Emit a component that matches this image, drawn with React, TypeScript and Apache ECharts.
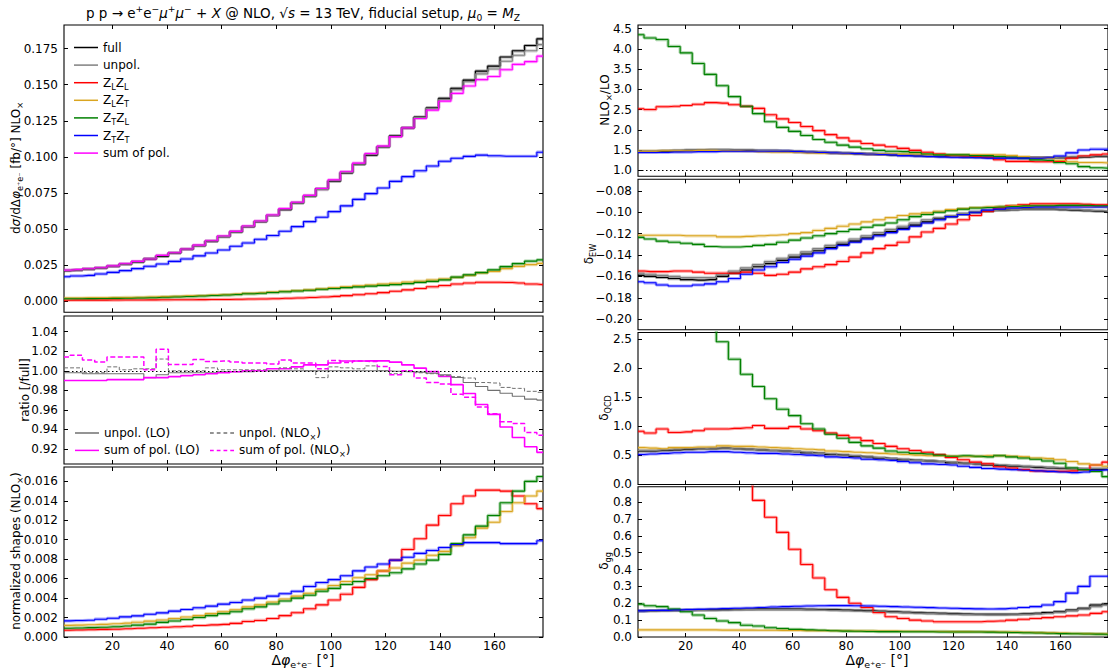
import React, { useEffect, useRef } from "react";
import * as echarts from "echarts";

// ---------- bins (centres of the 4.5 degree bins) ----------
const PHI = [
  2.25, 6.75, 11.25, 15.75, 20.25, 24.75, 29.25, 33.75, 38.25, 42.75,
  47.25, 51.75, 56.25, 60.75, 65.25, 69.75, 74.25, 78.75, 83.25, 87.75,
  92.25, 96.75, 101.25, 105.75, 110.25, 114.75, 119.25, 123.75, 128.25, 132.75,
  137.25, 141.75, 146.25, 150.75, 155.25, 159.75, 164.25, 168.75, 173.25, 177.75,
];
const X_TICKS = [20, 40, 60, 80, 100, 120, 140, 160];

// ---------- tick values ----------
const T_XS = [0, 0.025, 0.05, 0.075, 0.1, 0.125, 0.15, 0.175];
const T_RATIO = [0.92, 0.94, 0.96, 0.98, 1.0, 1.02, 1.04];
const T_NORM = [0, 0.002, 0.004, 0.006, 0.008, 0.01, 0.012, 0.014, 0.016];
const T_K = [1.0, 1.5, 2.0, 2.5, 3.0, 3.5, 4.0, 4.5];
const T_EW = [-0.2, -0.18, -0.16, -0.14, -0.12, -0.1, -0.08];
const T_QCD = [0, 0.5, 1.0, 1.5, 2.0, 2.5];
const T_GG = [0, 0.1, 0.2, 0.3, 0.4, 0.5, 0.6, 0.7, 0.8];

// ---------- dsigma/dDphi NLOx [fb/deg] ----------
const xsFull = [
  0.0211, 0.0215, 0.0222, 0.0229, 0.0241, 0.0255, 0.0271, 0.0292, 0.031, 0.0333,
  0.0359, 0.0384, 0.0414, 0.0447, 0.0479, 0.0516, 0.0551, 0.0593, 0.0634, 0.068,
  0.0727, 0.0778, 0.0831, 0.0889, 0.0947, 0.1012, 0.1069, 0.1145, 0.1201, 0.1275,
  0.134, 0.1405, 0.1475, 0.1532, 0.1594, 0.1629, 0.1692, 0.1735, 0.1772, 0.1818,
];
const xsUnpol = [
  0.0212, 0.0216, 0.0222, 0.0229, 0.0242, 0.0255, 0.0272, 0.0293, 0.0314, 0.0333,
  0.0359, 0.0384, 0.0415, 0.0447, 0.0479, 0.0517, 0.0552, 0.0593, 0.0636, 0.0681,
  0.0727, 0.0773, 0.0834, 0.0892, 0.0949, 0.1017, 0.1069, 0.1142, 0.1201, 0.1272,
  0.1336, 0.1398, 0.1466, 0.1521, 0.1575, 0.1609, 0.1663, 0.1704, 0.1735, 0.1778,
];
const xsSum = [
  0.0214, 0.0218, 0.0224, 0.0231, 0.0244, 0.0259, 0.0275, 0.0292, 0.0317, 0.0335,
  0.0361, 0.0388, 0.0418, 0.0451, 0.0483, 0.052, 0.0555, 0.0597, 0.0641, 0.0685,
  0.0733, 0.078, 0.084, 0.0897, 0.0956, 0.1022, 0.1074, 0.114, 0.1201, 0.1266,
  0.1324, 0.1386, 0.144, 0.1491, 0.1535, 0.1557, 0.1604, 0.1641, 0.166, 0.1698,
];
const xsLL = [
  0.0006, 0.00062, 0.00065, 0.00067, 0.00069, 0.00073, 0.00077, 0.00082, 0.00086, 0.0009,
  0.00095, 0.00101, 0.00108, 0.00112, 0.0012, 0.00138, 0.00146, 0.00163, 0.00189, 0.00215,
  0.00249, 0.00284, 0.00327, 0.00378, 0.00439, 0.00507, 0.00585, 0.00679, 0.00774, 0.00869,
  0.00989, 0.01075, 0.01178, 0.01247, 0.01299, 0.01299, 0.0129, 0.01247, 0.01178, 0.01135,
];
const xsLT = [
  0.00209, 0.00212, 0.00219, 0.00226, 0.00237, 0.00249, 0.00264, 0.00284, 0.00305, 0.00331,
  0.00357, 0.00383, 0.00418, 0.00452, 0.00487, 0.00539, 0.00574, 0.00626, 0.00679, 0.00731,
  0.00783, 0.00853, 0.00922, 0.00992, 0.01061, 0.01114, 0.01183, 0.01235, 0.01322, 0.01375,
  0.01462, 0.01531, 0.01636, 0.01775, 0.01949, 0.02053, 0.02245, 0.02401, 0.02523, 0.0261,
];
const xsTL = [
  0.00156, 0.00159, 0.00166, 0.00173, 0.00183, 0.00195, 0.00211, 0.00228, 0.0026, 0.00285,
  0.00311, 0.00346, 0.00381, 0.00415, 0.0045, 0.00502, 0.00536, 0.00588, 0.0064, 0.00692,
  0.00744, 0.00813, 0.00865, 0.00934, 0.00986, 0.01038, 0.0109, 0.01142, 0.01211, 0.01298,
  0.01367, 0.01471, 0.01661, 0.01817, 0.01972, 0.02163, 0.02387, 0.02595, 0.02768, 0.02855,
];
const xsTT = [
  0.0169, 0.0174, 0.0178, 0.0188, 0.0199, 0.0211, 0.0225, 0.0241, 0.0257, 0.0275,
  0.0292, 0.0313, 0.0333, 0.0354, 0.038, 0.0403, 0.0428, 0.0454, 0.0484, 0.0516,
  0.0551, 0.0581, 0.062, 0.066, 0.0705, 0.0745, 0.0784, 0.083, 0.0863, 0.0903,
  0.0936, 0.0969, 0.099, 0.1003, 0.1012, 0.1007, 0.1004, 0.1004, 0.1004, 0.1032,
];

// ---------- ratio [/full] ----------
const ratioUnpolLO = [
  0.998, 0.998, 0.997, 0.997, 0.997, 0.997, 0.997, 0.993, 0.996, 0.998,
  0.998, 0.998, 0.998, 0.999, 0.999, 0.999, 1.0, 1.0, 1.0, 1.0,
  1.0, 1.0, 1.0, 1.0, 1.0, 1.0, 1.0, 0.9995, 0.999, 0.9986,
  0.9976, 0.996, 0.9932, 0.988, 0.984, 0.98, 0.977, 0.974, 0.971, 0.97,
];
const ratioSumLO = [
  0.99, 0.99, 0.99, 0.99, 0.991, 0.991, 0.991, 0.993, 0.993, 0.994,
  0.995, 0.996, 0.997, 0.998, 0.999, 1.0, 1.0, 1.002, 1.002, 1.004,
  1.006, 1.006, 1.008, 1.01, 1.01, 1.0101, 1.0101, 1.0088, 1.006, 1.0027,
  0.9993, 0.9943, 0.9858, 0.9767, 0.9655, 0.9554, 0.9426, 0.9318, 0.9223, 0.9166,
];
const ratioUnpolNLO = [
  1.003, 1.003, 0.998, 0.998, 1.004, 1.001, 1.002, 1.002, 1.012, 1.0,
  1.0, 1.0, 1.003, 1.001, 1.001, 1.001, 1.001, 1.0, 1.003, 1.002,
  1.0, 0.993, 1.004, 1.003, 1.002, 1.005, 1.0, 0.997, 1.0, 0.998,
  0.997, 0.995, 0.994, 0.9926, 0.988, 0.9875, 0.983, 0.982, 0.979, 0.978,
];
const ratioSumNLO = [
  1.014, 1.016, 1.011, 1.009, 1.014, 1.014, 1.014, 1.001, 1.022, 1.0065,
  1.0065, 1.0115, 1.0095, 1.01, 1.009, 1.008, 1.008, 1.007, 1.011, 1.008,
  1.008, 1.002, 1.0105, 1.0085, 1.01, 1.0095, 1.0045, 0.996, 1.0, 0.9926,
  0.988, 0.9865, 0.976, 0.973, 0.963, 0.956, 0.948, 0.946, 0.937, 0.934,
];

// ---------- normalized shapes (NLOx) ----------
const normLL = [
  0.0007, 0.00072, 0.00075, 0.00078, 0.0008, 0.00085, 0.0009, 0.00095, 0.001, 0.00105,
  0.0011, 0.00118, 0.00125, 0.0013, 0.0014, 0.0016, 0.0017, 0.0019, 0.0022, 0.0025,
  0.0029, 0.0033, 0.0038, 0.0044, 0.0051, 0.0059, 0.0068, 0.0079, 0.009, 0.0101,
  0.0115, 0.0125, 0.0137, 0.0145, 0.0151, 0.0151, 0.015, 0.0145, 0.0137, 0.0132,
];
const normLT = [
  0.0012, 0.00122, 0.00126, 0.0013, 0.00136, 0.00143, 0.00152, 0.00163, 0.00175, 0.0019,
  0.00205, 0.0022, 0.0024, 0.0026, 0.0028, 0.0031, 0.0033, 0.0036, 0.0039, 0.0042,
  0.0045, 0.0049, 0.0053, 0.0057, 0.0061, 0.0064, 0.0068, 0.0071, 0.0076, 0.0079,
  0.0084, 0.0088, 0.0094, 0.0102, 0.0112, 0.0118, 0.0129, 0.0138, 0.0145, 0.015,
];
const normTL = [
  0.0009, 0.00092, 0.00096, 0.001, 0.00106, 0.00113, 0.00122, 0.00132, 0.0015, 0.00165,
  0.0018, 0.002, 0.0022, 0.0024, 0.0026, 0.0029, 0.0031, 0.0034, 0.0037, 0.004,
  0.0043, 0.0047, 0.005, 0.0054, 0.0057, 0.006, 0.0063, 0.0066, 0.007, 0.0075,
  0.0079, 0.0085, 0.0096, 0.0105, 0.0114, 0.0125, 0.0138, 0.015, 0.016, 0.0165,
];
const normTT = [
  0.00166, 0.00169, 0.00172, 0.00183, 0.00193, 0.00207, 0.00217, 0.00234, 0.00248, 0.00266,
  0.00283, 0.003, 0.00317, 0.00338, 0.00355, 0.0038, 0.004, 0.0042, 0.00445, 0.0047,
  0.0052, 0.0056, 0.0059, 0.0063, 0.0068, 0.0072, 0.0075, 0.0079, 0.0082, 0.0086,
  0.0089, 0.0092, 0.0095, 0.0097, 0.0097, 0.0097, 0.0096, 0.0096, 0.0096, 0.0099,
];

// ---------- NLOx/LO ----------
const kFull = [
  1.46, 1.46, 1.47, 1.48, 1.49, 1.49, 1.5, 1.5, 1.49, 1.49,
  1.48, 1.48, 1.47, 1.46, 1.45, 1.44, 1.43, 1.42, 1.41, 1.4,
  1.39, 1.38, 1.37, 1.36, 1.35, 1.34, 1.34, 1.33, 1.33, 1.32,
  1.32, 1.31, 1.31, 1.31, 1.31, 1.31, 1.32, 1.33, 1.34, 1.34,
];
const kUnpol = [
  1.47, 1.47, 1.48, 1.49, 1.5, 1.5, 1.51, 1.51, 1.5, 1.5,
  1.49, 1.49, 1.48, 1.47, 1.46, 1.45, 1.44, 1.43, 1.42, 1.41,
  1.4, 1.39, 1.38, 1.37, 1.36, 1.35, 1.34, 1.33, 1.33, 1.32,
  1.32, 1.31, 1.31, 1.31, 1.31, 1.32, 1.33, 1.34, 1.35, 1.35,
];
const kLL = [
  2.52, 2.5, 2.57, 2.58, 2.6, 2.63, 2.67, 2.66, 2.62, 2.58,
  2.53, 2.37, 2.27, 2.18, 2.08, 1.98, 1.88, 1.8, 1.72, 1.66,
  1.62, 1.58, 1.54, 1.49, 1.445, 1.4, 1.36, 1.35, 1.34, 1.32,
  1.26, 1.22, 1.22, 1.21, 1.21, 1.22, 1.3, 1.35, 1.38, 1.4,
];
const kLT = [
  1.47, 1.47, 1.48, 1.48, 1.48, 1.49, 1.49, 1.48, 1.48, 1.47,
  1.46, 1.45, 1.45, 1.44, 1.43, 1.42, 1.42, 1.41, 1.41, 1.4,
  1.4, 1.4, 1.4, 1.4, 1.39, 1.39, 1.38, 1.38, 1.38, 1.38,
  1.38, 1.36, 1.34, 1.31, 1.3, 1.24, 1.21, 1.19, 1.19, 1.18,
];
const kTL = [
  4.35, 4.27, 4.23, 4.06, 3.9, 3.64, 3.37, 3.09, 2.82, 2.58,
  2.4, 2.2, 2.06, 1.96, 1.86, 1.76, 1.69, 1.62, 1.57, 1.53,
  1.49, 1.47, 1.46, 1.44, 1.4, 1.38, 1.38, 1.38, 1.36, 1.36,
  1.34, 1.32, 1.3, 1.255, 1.24, 1.19, 1.16, 1.09, 1.06, 1.05,
];
const kTT = [
  1.44, 1.44, 1.44, 1.45, 1.45, 1.46, 1.46, 1.47, 1.47, 1.47,
  1.47, 1.47, 1.47, 1.46, 1.45, 1.44, 1.43, 1.42, 1.41, 1.4,
  1.39, 1.38, 1.36, 1.35, 1.34, 1.33, 1.32, 1.32, 1.31, 1.3,
  1.3, 1.3, 1.3, 1.3, 1.31, 1.35, 1.43, 1.5, 1.52, 1.52,
];

// ---------- delta_EW ----------
const ewFull = [
  -0.159, -0.16, -0.161, -0.162, -0.163, -0.1635, -0.163, -0.16, -0.157, -0.154,
  -0.151, -0.148, -0.145, -0.142, -0.139, -0.136, -0.133, -0.13, -0.127, -0.124,
  -0.121, -0.118, -0.115, -0.112, -0.109, -0.106, -0.104, -0.102, -0.1, -0.099,
  -0.098, -0.0975, -0.097, -0.097, -0.097, -0.0975, -0.098, -0.0985, -0.099, -0.0995,
];
const ewUnpol = [
  -0.157, -0.158, -0.159, -0.16, -0.161, -0.161, -0.161, -0.158, -0.155, -0.152,
  -0.149, -0.146, -0.143, -0.14, -0.137, -0.134, -0.131, -0.128, -0.125, -0.122,
  -0.119, -0.116, -0.113, -0.11, -0.107, -0.105, -0.103, -0.101, -0.0995, -0.0985,
  -0.098, -0.0975, -0.097, -0.097, -0.097, -0.097, -0.0975, -0.098, -0.0985, -0.099,
];
const ewLL = [
  -0.155, -0.1555, -0.1555, -0.155, -0.155, -0.156, -0.157, -0.157, -0.157, -0.156,
  -0.157, -0.159, -0.158, -0.156, -0.153, -0.151, -0.149, -0.146, -0.142, -0.138,
  -0.134, -0.131, -0.128, -0.123, -0.1185, -0.115, -0.111, -0.107, -0.103, -0.099,
  -0.096, -0.094, -0.093, -0.092, -0.092, -0.092, -0.092, -0.0925, -0.093, -0.093,
];
const ewLT = [
  -0.1215, -0.1215, -0.1215, -0.1215, -0.122, -0.122, -0.122, -0.123, -0.123, -0.1225,
  -0.122, -0.1215, -0.121, -0.12, -0.119, -0.117, -0.115, -0.113, -0.111, -0.109,
  -0.107, -0.105, -0.103, -0.1015, -0.1005, -0.099, -0.0975, -0.0965, -0.0955, -0.095,
  -0.0945, -0.094, -0.094, -0.094, -0.094, -0.094, -0.094, -0.0945, -0.0945, -0.095,
];
const ewTL = [
  -0.1235, -0.125, -0.127, -0.128, -0.129, -0.13, -0.132, -0.1325, -0.1325, -0.132,
  -0.131, -0.13, -0.128, -0.126, -0.124, -0.122, -0.12, -0.118, -0.116, -0.114,
  -0.112, -0.11, -0.107, -0.104, -0.102, -0.1, -0.0985, -0.097, -0.096, -0.0955,
  -0.095, -0.0945, -0.094, -0.094, -0.094, -0.0935, -0.0935, -0.0935, -0.094, -0.094,
];
const ewTT = [
  -0.165, -0.166, -0.168, -0.169, -0.169, -0.168, -0.167, -0.165, -0.162, -0.158,
  -0.154, -0.151, -0.147, -0.144, -0.141, -0.138, -0.134, -0.131, -0.128, -0.125,
  -0.122, -0.119, -0.116, -0.113, -0.11, -0.107, -0.104, -0.102, -0.1, -0.098,
  -0.097, -0.096, -0.0955, -0.095, -0.095, -0.095, -0.095, -0.095, -0.095, -0.095,
];

// ---------- delta_QCD ----------
const qcdFull = [
  0.57, 0.57, 0.58, 0.59, 0.6, 0.61, 0.61, 0.62, 0.61, 0.6,
  0.59, 0.58, 0.57, 0.56, 0.54, 0.53, 0.51, 0.5, 0.48, 0.47,
  0.45, 0.44, 0.42, 0.41, 0.4, 0.39, 0.37, 0.36, 0.35, 0.33,
  0.32, 0.31, 0.3, 0.29, 0.28, 0.27, 0.27, 0.26, 0.26, 0.26,
];
const qcdUnpol = [
  0.58, 0.58, 0.59, 0.6, 0.61, 0.61, 0.62, 0.62, 0.61, 0.6,
  0.59, 0.58, 0.57, 0.56, 0.55, 0.53, 0.52, 0.5, 0.49, 0.47,
  0.46, 0.44, 0.43, 0.41, 0.4, 0.39, 0.38, 0.36, 0.35, 0.34,
  0.33, 0.32, 0.31, 0.3, 0.29, 0.28, 0.27, 0.27, 0.27, 0.27,
];
const qcdLL = [
  0.91, 0.88, 0.95, 0.89, 0.9, 0.92, 0.95, 0.95, 0.96, 0.97,
  1.01, 0.96, 0.96, 0.99, 0.95, 0.92, 0.88, 0.84, 0.8, 0.75,
  0.7, 0.65, 0.61, 0.58, 0.55, 0.51, 0.46, 0.42, 0.38, 0.35,
  0.3, 0.28, 0.25, 0.23, 0.22, 0.22, 0.23, 0.25, 0.33, 0.38,
];
const qcdLT = [
  0.63, 0.62, 0.61, 0.63, 0.63, 0.64, 0.64, 0.66, 0.65, 0.65,
  0.64, 0.63, 0.62, 0.61, 0.6, 0.59, 0.57, 0.56, 0.55, 0.54,
  0.53, 0.52, 0.51, 0.5, 0.49, 0.49, 0.48, 0.48, 0.48, 0.49,
  0.49, 0.48, 0.47, 0.45, 0.44, 0.42, 0.39, 0.35, 0.33, 0.31,
];
const qcdTL = [
  3.7, 3.6, 3.55, 3.38, 3.23, 2.98, 2.75, 2.45, 2.15, 1.89,
  1.68, 1.47, 1.29, 1.18, 1.04, 0.95, 0.86, 0.79, 0.72, 0.66,
  0.62, 0.57, 0.55, 0.53, 0.52, 0.5, 0.48, 0.49, 0.48, 0.47,
  0.49, 0.47, 0.45, 0.43, 0.4, 0.36, 0.28, 0.25, 0.22, 0.13,
];
const qcdTT = [
  0.51, 0.52, 0.53, 0.54, 0.55, 0.55, 0.56, 0.56, 0.55, 0.54,
  0.53, 0.53, 0.52, 0.51, 0.5, 0.49, 0.47, 0.46, 0.45, 0.43,
  0.42, 0.41, 0.39, 0.37, 0.35, 0.34, 0.33, 0.31, 0.29, 0.27,
  0.26, 0.25, 0.24, 0.23, 0.22, 0.21, 0.2, 0.21, 0.24, 0.25,
];

// ---------- delta_gg ----------
const ggFull = [
  0.155, 0.156, 0.157, 0.158, 0.159, 0.16, 0.161, 0.162, 0.163, 0.164,
  0.165, 0.165, 0.165, 0.165, 0.164, 0.163, 0.162, 0.16, 0.158, 0.156,
  0.153, 0.15, 0.147, 0.144, 0.142, 0.14, 0.138, 0.136, 0.135, 0.134,
  0.134, 0.135, 0.137, 0.14, 0.145, 0.15, 0.16, 0.17, 0.19, 0.195,
];
const ggUnpol = [
  0.153, 0.154, 0.155, 0.156, 0.157, 0.158, 0.159, 0.16, 0.161, 0.162,
  0.162, 0.162, 0.162, 0.162, 0.161, 0.16, 0.158, 0.156, 0.154, 0.152,
  0.149, 0.146, 0.143, 0.141, 0.139, 0.137, 0.135, 0.133, 0.132, 0.131,
  0.131, 0.132, 0.134, 0.137, 0.141, 0.146, 0.155, 0.165, 0.18, 0.19,
];
const ggLL = [
  3.0, 2.8, 2.6, 2.4, 2.2, 2.0, 1.8, 1.5, 1.25, 1.0,
  0.81, 0.71, 0.62, 0.52, 0.43, 0.35, 0.28, 0.235, 0.2, 0.175,
  0.145, 0.12, 0.11, 0.1, 0.095, 0.09, 0.09, 0.09, 0.09, 0.093,
  0.095, 0.1, 0.105, 0.11, 0.115, 0.12, 0.125, 0.13, 0.14, 0.15,
];
const ggLT = [
  0.042, 0.042, 0.042, 0.042, 0.042, 0.042, 0.042, 0.041, 0.041, 0.041,
  0.04, 0.04, 0.039, 0.039, 0.038, 0.038, 0.037, 0.037, 0.036, 0.036,
  0.035, 0.035, 0.034, 0.034, 0.033, 0.033, 0.032, 0.032, 0.031, 0.031,
  0.03, 0.029, 0.028, 0.026, 0.025, 0.023, 0.021, 0.02, 0.019, 0.018,
];
const ggTL = [
  0.195, 0.185, 0.18, 0.165, 0.15, 0.13, 0.11, 0.095, 0.085, 0.07,
  0.065, 0.055, 0.05, 0.045, 0.042, 0.04, 0.037, 0.035, 0.034, 0.033,
  0.032, 0.032, 0.031, 0.031, 0.031, 0.03, 0.03, 0.03, 0.03, 0.029,
  0.028, 0.027, 0.025, 0.024, 0.022, 0.02, 0.019, 0.018, 0.017, 0.016,
];
const ggTT = [
  0.155, 0.157, 0.158, 0.16, 0.162, 0.164, 0.166, 0.168, 0.17, 0.172,
  0.175, 0.178, 0.18, 0.182, 0.184, 0.185, 0.186, 0.186, 0.185, 0.184,
  0.182, 0.18, 0.178, 0.176, 0.174, 0.172, 0.17, 0.168, 0.167, 0.166,
  0.167, 0.17, 0.175, 0.18, 0.19, 0.21, 0.26, 0.3, 0.36, 0.36,
];

// ---------- styling ----------
const FONT = '"DejaVu Sans", "Liberation Sans", sans-serif';
const COL = {
  full: "#000000",
  unpol: "#808080",
  LL: "#ff0000",
  LT: "#daa520",
  TL: "#008000",
  TT: "#0000ff",
  sum: "#ff00ff",
};
const ICON_SOLID = "rect";
const ICON_DASHED = "path://M0,0H5V2H0Z M9,0H14V2H9Z M18,0H23V2H18Z M27,0H32V2H27Z";

function richSet(base: number) {
  return {
    n: { fontSize: base, fontFamily: FONT, color: "#000", lineHeight: base + 4 },
    i: { fontSize: base, fontFamily: FONT, fontStyle: "italic", color: "#000", lineHeight: base + 4 },
    s: { fontSize: base * 0.68, fontFamily: FONT, color: "#000", lineHeight: base * 0.62, verticalAlign: "bottom" },
    p: { fontSize: base * 0.68, fontFamily: FONT, color: "#000", lineHeight: base * 0.62, verticalAlign: "top" },
  };
}

const LEGEND_TEXT: Record<string, string> = {
  "full": "{n|full}",
  "unpol.": "{n|unpol.}",
  ZLZL: "{n|Z}{s|L}{n|Z}{s|L}",
  ZLZT: "{n|Z}{s|L}{n|Z}{s|T}",
  ZTZL: "{n|Z}{s|T}{n|Z}{s|L}",
  ZTZT: "{n|Z}{s|T}{n|Z}{s|T}",
  "sum of pol.": "{n|sum of pol.}",
  "unpol. (LO)": "{n|unpol. (LO)}",
  "sum of pol. (LO)": "{n|sum of pol. (LO)}",
  "unpol. (NLO×)": "{n|unpol. (NLO}{s|×}{n|)}",
  "sum of pol. (NLO×)": "{n|sum of pol. (NLO}{s|×}{n|)}",
};

export default function App() {
  const ref = useRef<HTMLDivElement | null>(null);

  useEffect(() => {
    if (!ref.current) return;
    const chart = echarts.init(ref.current, undefined, { renderer: "svg" });

    const GRIDS = [
      { left: 64, top: 25, width: 479, height: 287.3 },
      { left: 64, top: 316, width: 479, height: 148 },
      { left: 64, top: 467, width: 479, height: 170 },
      { left: 638, top: 25, width: 479.5, height: 151.3 },
      { left: 638, top: 179.3, width: 479.5, height: 150.5 },
      { left: 638, top: 332.5, width: 479.5, height: 152 },
      { left: 638, top: 486.7, width: 479.5, height: 150.3 },
    ];
    const YCFG = [
      { min: -0.0078, max: 0.1914, ticks: T_XS, dec: 3 },
      { min: 0.9047, max: 1.056, ticks: T_RATIO, dec: 2 },
      { min: 0, max: 0.01748, ticks: T_NORM, dec: 3 },
      { min: 0.85, max: 4.59, ticks: T_K, dec: 1 },
      { min: -0.21, max: -0.0691, ticks: T_EW, dec: 2 },
      { min: -0.005, max: 2.609, ticks: T_QCD, dec: 1 },
      { min: 0, max: 0.891, ticks: T_GG, dec: 1 },
    ];
    const xLabelGrids = [2, 6];

    const tickStyle = { show: true, inside: true, length: 4, lineStyle: { color: "#000", width: 1 } };
    const labelBase = { fontFamily: FONT, fontSize: 12, color: "#000" };

    const xAxis: any[] = [];
    const yAxis: any[] = [];
    GRIDS.forEach((_, g) => {
      xAxis.push({
        type: "value", gridIndex: g, position: "bottom", min: 2.25, max: 177.75,
        axisLine: { show: false, onZero: false },
        axisTick: { ...tickStyle, customValues: X_TICKS },
        axisLabel: { ...labelBase, show: xLabelGrids.includes(g), customValues: X_TICKS, margin: 3 },
        splitLine: { show: false },
      });
      xAxis.push({
        type: "value", gridIndex: g, position: "top", min: 2.25, max: 177.75,
        axisLine: { show: false, onZero: false },
        axisTick: { ...tickStyle, customValues: X_TICKS },
        axisLabel: { show: false, customValues: X_TICKS },
        splitLine: { show: false },
      });
      const c = YCFG[g];
      const fmt = (v: number) => (v < 0 ? "\u2212" : "") + Math.abs(v).toFixed(c.dec);
      yAxis.push({
        type: "value", gridIndex: g, position: "left", min: c.min, max: c.max,
        axisLine: { show: false, onZero: false },
        axisTick: { ...tickStyle, customValues: c.ticks },
        axisLabel: { ...labelBase, show: true, customValues: c.ticks, formatter: fmt, margin: 6 },
        splitLine: { show: false },
      });
      yAxis.push({
        type: "value", gridIndex: g, position: "right", min: c.min, max: c.max,
        axisLine: { show: false, onZero: false },
        axisTick: { ...tickStyle, customValues: c.ticks },
        axisLabel: { show: false, customValues: c.ticks },
        splitLine: { show: false },
      });
    });

    const series: any[] = [];
    const dotted = (y: number) => ({
      silent: true, symbol: ["none", "none"], label: { show: false }, animation: false,
      lineStyle: { color: "#000", type: [1.5, 2.5], width: 1.2 },
      data: [{ yAxis: y }],
    });
    function add(g: number, name: string, vals: number[], color: string, o: any = {}) {
      const data = PHI.map((x, i) => [x, vals[i]]);
      if (o.band) {
        series.push({
          type: "line", name: name + " band", xAxisIndex: 2 * g, yAxisIndex: 2 * g, data,
          step: "middle", symbol: "none", showSymbol: false, silent: true, z: 2,
          lineStyle: { color, width: 3.2, opacity: 0.35 },
        });
      }
      series.push({
        type: "line", name, xAxisIndex: 2 * g, yAxisIndex: 2 * g, data,
        step: "middle", symbol: "none", showSymbol: false, z: 3,
        lineStyle: { color, width: o.width ?? 1.1, type: o.dash ?? "solid" },
        itemStyle: { color },
        markLine: o.markLine,
      });
    }

    // panel 0: distributions
    add(0, "full", xsFull, COL.full, { band: true });
    add(0, "unpol.", xsUnpol, COL.unpol, { band: true });
    add(0, "ZLZL", xsLL, COL.LL, { band: true });
    add(0, "ZLZT", xsLT, COL.LT, { band: true });
    add(0, "ZTZL", xsTL, COL.TL, { band: true });
    add(0, "ZTZT", xsTT, COL.TT, { band: true });
    add(0, "sum of pol.", xsSum, COL.sum, { band: true });

    // panel 1: ratios
    add(1, "unpol. (LO)", ratioUnpolLO, "#707070", { width: 1.1, markLine: dotted(1) });
    add(1, "sum of pol. (LO)", ratioSumLO, COL.sum, { width: 1.6 });
    add(1, "unpol. (NLO×)", ratioUnpolNLO, "#707070", { width: 1.0, dash: [4, 2] });
    add(1, "sum of pol. (NLO×)", ratioSumNLO, COL.sum, { width: 1.5, dash: [5, 2.5] });

    // panel 2: normalized shapes
    add(2, "n ZLZL", normLL, COL.LL, { band: true });
    add(2, "n ZLZT", normLT, COL.LT, { band: true });
    add(2, "n ZTZL", normTL, COL.TL, { band: true });
    add(2, "n ZTZT", normTT, COL.TT, { band: true });

    const right: [number, string, number[][]][] = [
      [3, "K", [kFull, kUnpol, kLL, kLT, kTL, kTT]],
      [4, "EW", [ewFull, ewUnpol, ewLL, ewLT, ewTL, ewTT]],
      [5, "QCD", [qcdFull, qcdUnpol, qcdLL, qcdLT, qcdTL, qcdTT]],
      [6, "gg", [ggFull, ggUnpol, ggLL, ggLT, ggTL, ggTT]],
    ];
    const rcols = [COL.full, COL.unpol, COL.LL, COL.LT, COL.TL, COL.TT];
    const rnames = ["full", "unpol", "LL", "LT", "TL", "TT"];
    right.forEach(([g, tag, arrs]) => {
      arrs.forEach((a, k) => {
        const ml = k === 0 && g === 3 ? dotted(1) : k === 0 && g === 5 ? dotted(0) : undefined;
        add(g, tag + " " + rnames[k], a, rcols[k], { band: true, markLine: ml });
      });
    });

    const legendCommon = {
      orient: "vertical",
      itemWidth: 24,
      itemHeight: 1.5,
      selectedMode: false,
      symbolKeepAspect: false,
      formatter: (n: string) => LEGEND_TEXT[n] ?? n,
      textStyle: { fontFamily: FONT, fontSize: 12, color: "#000", lineHeight: 16, rich: richSet(12) },
    };
    const item = (name: string, dashed = false) => ({ name, icon: dashed ? ICON_DASHED : ICON_SOLID });

    const r12 = richSet(12);
    const r13 = richSet(13.5);
    const r14 = richSet(14);
    const txt = (x: number, y: number, text: string, rich: any, rot = 0) => ({
      type: "text", x, y, rotation: rot, silent: true,
      style: { text, rich, align: "center", verticalAlign: "middle", fill: "#000", fontFamily: FONT, fontSize: 12 },
    });
    const up = Math.PI / 2;

    const graphic = [
      txt(303, 13,
        "{n|p p → e}{p|+}{n|e}{p|−}{i|μ}{p|+}{i|μ}{p|−}{n| + }{i|X}{n| @ NLO, √}{i|s}{n| = 13 TeV, fiducial setup, }{i|μ}{s|0}{n| = }{i|M}{s|Z}",
        r13),
      txt(303, 660, "{n|Δ}{i|φ}{s|e⁺e⁻}{n| [°]}", r14),
      txt(877, 660, "{n|Δ}{i|φ}{s|e⁺e⁻}{n| [°]}", r14),
      txt(16, 168, "{n|d}{i|σ}{n|/dΔ}{i|φ}{s|e⁺e⁻}{n| [fb/°] NLO}{s|×}", r12, up),
      txt(25, 390, "{n|ratio [/full]}", r12, up),
      txt(16, 551, "{n|normalized shapes (NLO}{s|×}{n|)}", r12, up),
      txt(605, 100, "{n|NLO}{s|×}{n|/LO}", r12, up),
      txt(589, 254, "{n|δ}{s|EW}", r12, up),
      txt(604, 408, "{n|δ}{s|QCD}", r12, up),
      txt(604, 561, "{n|δ}{s|gg}", r12, up),
    ];

    chart.setOption({
      animation: false,
      backgroundColor: "#ffffff",
      grid: GRIDS.map((b) => ({ ...b, show: true, borderColor: "#000", borderWidth: 1.1, backgroundColor: "transparent" })),
      xAxis,
      yAxis,
      legend: [
        {
          ...legendCommon,
          data: ["full", "unpol.", "ZLZL", "ZLZT", "ZTZL", "ZTZT", "sum of pol."].map((n) => item(n)),
          left: 69, top: 34.5, itemGap: 1.6,
        },
        {
          ...legendCommon,
          data: [item("unpol. (LO)"), item("sum of pol. (LO)")],
          left: 70, top: 420, itemGap: 1.4,
        },
        {
          ...legendCommon,
          data: [item("unpol. (NLO×)", true), item("sum of pol. (NLO×)", true)],
          left: 205, top: 420, itemGap: 1.4,
        },
      ],
      graphic,
      series,
    });

    return () => chart.dispose();
  }, []);

  return (
    <div
      ref={ref}
      style={{ position: "absolute", left: 0, top: 0, width: 1108, height: 668, background: "#fff" }}
    />
  );
}
